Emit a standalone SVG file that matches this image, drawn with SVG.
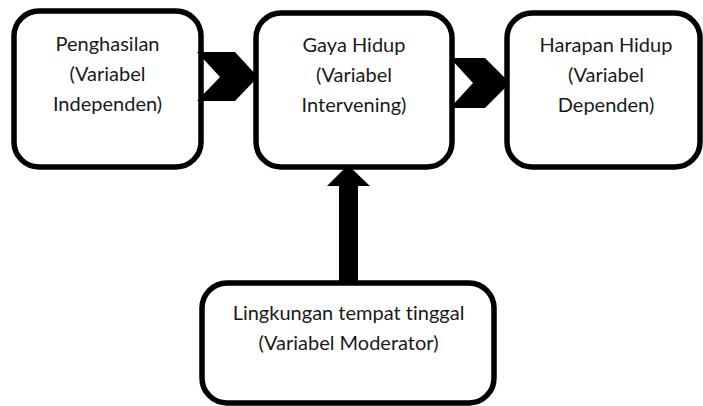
<svg xmlns="http://www.w3.org/2000/svg" width="703" height="406" viewBox="0 0 703 406">
  <style>
    .box { fill: #ffffff; stroke: #000000; stroke-width: 5.5; }
    .lbl { font-family: Lato, "Open Sans", "Liberation Sans", sans-serif; font-size: 20px; fill: #1a1a1a; text-anchor: middle; font-variant-ligatures: none; }
    .arrow { fill: #000000; stroke: none; }
  </style>
  <rect width="703" height="406" fill="#ffffff"/>

  <g id="node-penghasilan">
    <rect class="box" x="14" y="11" width="187" height="156" rx="25" ry="25"/>
    <text class="lbl" x="107.5" y="51">Penghasilan</text>
    <text class="lbl" x="107.5" y="81">(Variabel</text>
    <text class="lbl" x="107.5" y="111">Independen)</text>
  </g>

  <g id="node-gaya-hidup">
    <rect class="box" x="256" y="13" width="196" height="154" rx="25" ry="25"/>
    <text class="lbl" x="354" y="52">Gaya Hidup</text>
    <text class="lbl" x="354" y="82">(Variabel</text>
    <text class="lbl" x="354" y="112">Intervening)</text>
  </g>

  <g id="node-harapan-hidup">
    <rect class="box" x="507" y="13" width="193" height="154" rx="25" ry="25"/>
    <text class="lbl" x="606" y="52">Harapan Hidup</text>
    <text class="lbl" x="606" y="82">(Variabel</text>
    <text class="lbl" x="606" y="112">Dependen)</text>
  </g>

  <g id="node-lingkungan">
    <rect class="box" x="202" y="283" width="292" height="120" rx="25" ry="25"/>
    <text class="lbl" x="348.5" y="320">Lingkungan tempat tinggal</text>
    <text class="lbl" x="348.5" y="350">(Variabel Moderator)</text>
  </g>

  <g id="connectors">
    <!-- chevron: Penghasilan to Gaya Hidup -->
    <polygon class="arrow" points="197,52 235,52 258,77 235,101 197,101 220,77"/>
    <!-- chevron: Gaya Hidup to Harapan Hidup -->
    <polygon class="arrow" points="450,58 485,58 510,83 485,108 450,108 473,83"/>
    <!-- block arrow: Lingkungan up to Gaya Hidup -->
    <polygon class="arrow" points="339,281 339,186 327,186 348,165 370,186 358,186 358,281"/>
  </g>
</svg>
